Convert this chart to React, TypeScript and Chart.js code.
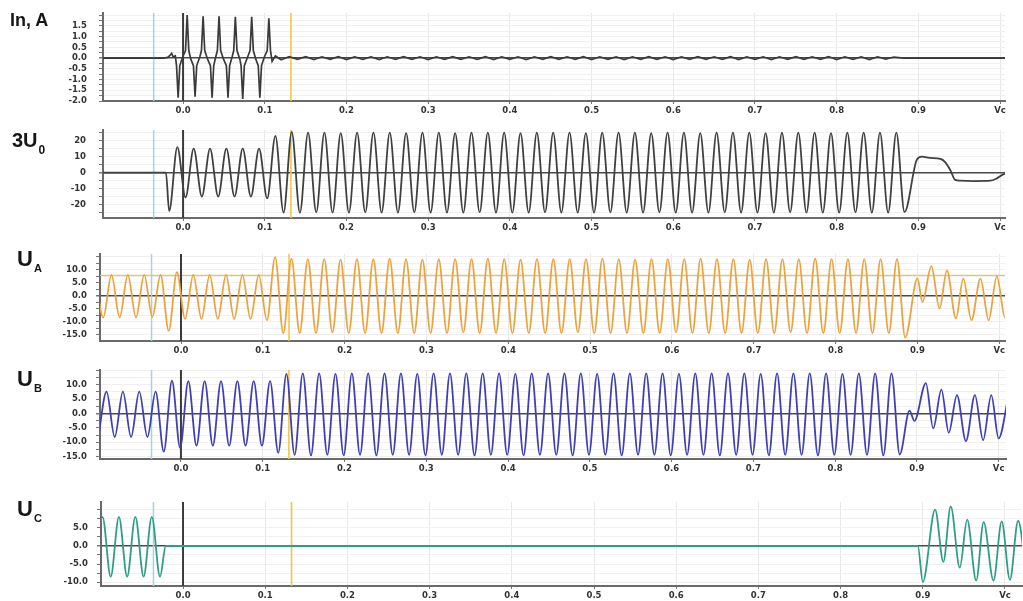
import React, { useEffect, useRef } from "react";
import { Chart, registerables } from "chart.js";
Chart.register(...registerables);

// ---------- shared axis data ----------
const HALF_PERIOD = 0.01;
const X_TICKS = [0, 0.1, 0.2, 0.3, 0.4, 0.5, 0.6, 0.7, 0.8, 0.9, 1.0];
const X_TICK_LABELS = ["0.0", "0.1", "0.2", "0.3", "0.4", "0.5", "0.6", "0.7", "0.8", "0.9", "Vc"];
const CURSOR_BLUE = -0.036;
const CURSOR_YELLOW = 0.132;
const UA_LEVEL = 7.8;

// ---------- In, A ----------
const IN_Y_TICKS = [-2, -1.75, -1.5, -1.25, -1, -0.75, -0.5, -0.25, 0, 0.25, 0.5, 0.75, 1, 1.25, 1.5, 1.75, 2];
const IN_Y_LABELS = ["-2.0", "", "-1.5", "", "-1.0", "", "-0.5", "", "0.0", "", "0.5", "", "1.0", "", "1.5", "", ""];
const IN_T = [-0.1, -0.024, -0.019, -0.016, -0.014, -0.012, -0.0095,
  -0.008, -0.006, -0.004, -0.0005,
  0.003, 0.005, 0.007, 0.0095,
  0.0127, 0.0147, 0.0167, 0.0205,
  0.0225, 0.0245, 0.0265, 0.030,
  0.0335, 0.0355, 0.0375, 0.040,
  0.042, 0.044, 0.046, 0.0495,
  0.053, 0.055, 0.057, 0.060,
  0.062, 0.064, 0.066, 0.0695,
  0.071, 0.073, 0.075, 0.079,
  0.082, 0.084, 0.086, 0.089,
  0.092, 0.094, 0.096, 0.0995,
  0.103, 0.105, 0.107, 0.109, 0.113];
const IN_V = [0, 0, 0.03, 0.12, 0.22, 0.05, 0.1,
  -0.35, -1.85, -0.35, 0.05,
  0.35, 2.0, 0.35, -0.05,
  -0.35, -1.8, -0.35, 0.05,
  0.35, 1.95, 0.35, -0.05,
  -0.35, -1.85, -0.35, 0.05,
  0.35, 1.95, 0.35, -0.05,
  -0.35, -1.85, -0.35, 0.05,
  0.35, 1.92, 0.35, -0.05,
  -0.35, -1.9, -0.35, 0.05,
  0.35, 1.92, 0.35, -0.05,
  -0.35, -1.85, -0.35, 0.05,
  0.35, 1.85, 0.35, -0.15, 0.1];
const IN_RIPPLE_START = 0.12;
const IN_RIPPLE = [
  -0.08, 0.07, -0.06, 0.07, -0.07, 0.06, -0.06, 0.07, -0.07, 0.06,
  -0.06, 0.06, -0.07, 0.06, -0.06, 0.07, -0.06, 0.06, -0.07, 0.06,
  -0.06, 0.07, -0.06, 0.06, -0.06, 0.07, -0.07, 0.06, -0.06, 0.06,
  -0.07, 0.06, -0.06, 0.07, -0.06, 0.06, -0.06, 0.07, -0.07, 0.06,
  -0.06, 0.06, -0.07, 0.06, -0.06, 0.07, -0.06, 0.06, -0.07, 0.06,
  -0.06, 0.07, -0.06, 0.06, -0.06, 0.07, -0.07, 0.06, -0.06, 0.06,
  -0.07, 0.06, -0.06, 0.07, -0.06, 0.06, -0.06, 0.07, -0.07, 0.06,
  -0.06, 0.06, -0.07, 0.06, -0.05, 0.05];
const IN_END_T = [0.882, 1.01];
const IN_END_V = [0, 0];

// ---------- 3U0 ----------
const U0_Y_TICKS = [-25, -20, -15, -10, -5, 0, 5, 10, 15, 20, 25];
const U0_Y_LABELS = ["", "-20", "", "-10", "", "0", "", "10", "", "20", ""];
const U0_LEAD_T = [-0.1, -0.021];
const U0_LEAD_V = [0, 0];
const U0_START = -0.017;
const U0_EXT = [
  -24, 16, -15.5, 15, -15, 15, -15, 15, -15, 15, -15, 15, -16, 23, -25, 25.5,
  -25, 25, -24.8, 25, -25, 24.8, -25, 25, -24.8, 25,
  -25, 25, -25, 24.8, -24.8, 25, -25, 25, -25, 24.8,
  -25, 25, -24.8, 25, -25, 25, -25, 24.8, -25, 25,
  -24.8, 25, -25, 25, -25, 24.8, -25, 25, -24.8, 25,
  -25, 25, -25, 24.8, -24.8, 25, -25, 25, -25, 24.8,
  -25, 25, -24.8, 25, -25, 25, -25, 24.8, -25, 25,
  -24.8, 25, -25, 25, -25, 24.8, -25, 25, -24.8, 25,
  -25, 25, -25, 25, -24.5];
const U0_TAIL_T = [0.898, 0.904, 0.914, 0.927, 0.933, 0.939, 0.945, 0.951, 0.967, 0.988, 0.996, 1.004, 1.012];
const U0_TAIL_V = [8, 10, 9.3, 8.6, 6.5, 1.7, -4.5, -5, -5.2, -5, -3.5, -1, -0.5];

// ---------- UA ----------
const UV_Y_TICKS = [-15, -12.5, -10, -7.5, -5, -2.5, 0, 2.5, 5, 7.5, 10, 12.5, 15];
const UV_Y_LABELS = ["-15.0", "", "-10.0", "", "-5.0", "", "0.0", "", "5.0", "", "10.0", "", ""];
const UA_START = -0.105;
const UA_EXT = [
  8, -8.5, 8, -8.5, 8, -8.5, 8, -8.2, 8, -13.6,
  9, -9, 8, -9, 8, -9, 8, -9, 8, -9, 8, -9.5,
  14.8, -14.6, 14.2, -14.5, 14, -14.5, 14, -14.2, 13.8, -14.5,
  14, -14.5, 14, -14.5, 14.2, -14.5, 14, -14.5, 13.8, -14.5,
  14, -14.5, 14, -14.2, 14, -14.5, 14.2, -14.5, 14, -14.5,
  13.8, -14.5, 14, -14.5, 14, -14.5, 14, -14.2, 14, -14.5,
  14.2, -14.5, 14, -14.5, 13.8, -14.5, 14, -14.5, 14, -14.2,
  14, -14.5, 14.2, -14.5, 14, -14.5, 14, -14.5, 13.8, -14.5,
  14, -14.5, 14, -14.2, 14, -14.5, 14.2, -14.5, 14, -14.5,
  14, -14.5, 14, -14.5, 14, -14.5, 14, -16.2];
const UA_TAIL_T = [0.9, 0.906, 0.917, 0.927, 0.936, 0.947, 0.956, 0.966, 0.977, 0.987, 0.997, 1.007, 1.017];
const UA_TAIL_V = [6.6, -2.5, 11.3, -5, 9.7, -8.8, 6.5, -9.5, 6.5, -9.5, 7.4, -8.5, 7];

// ---------- UB ----------
const UB_START = -0.101;
const UB_EXT = [
  -8, 7.6, -8.2, 7.6, -8.2, 7.6, -8.2, 7.6, -13.3, 11.4,
  -12, 11.3, -11.2, 11.3, -11.2, 11.3, -11.2, 11.3, -11.2, 11.3, -11.2, 11.3,
  -13.7, 13.8,
  -14.4, 14, -14.6, 14, -14.4, 13.8, -14.6, 14, -14.4, 14,
  -14.6, 14, -14.4, 14, -14.4, 13.8, -14.6, 14, -14.4, 14,
  -14.4, 14, -14.6, 14, -14.4, 14, -14.4, 13.8, -14.6, 14,
  -14.4, 14, -14.4, 14, -14.6, 14, -14.4, 13.8, -14.4, 14,
  -14.6, 14, -14.4, 14, -14.4, 14, -14.6, 13.8, -14.4, 14,
  -14.4, 14, -14.6, 14, -14.4, 14, -14.4, 13.8, -14.6, 14,
  -14.4, 14, -14.4, 14, -14.6, 14, -14.4, 13.8, -14.4, 14,
  -14.4, 14, -14.6, 14, -14.3];
const UB_TAIL_T = [0.891, 0.897, 0.911, 0.92, 0.93, 0.939, 0.949, 0.96, 0.971, 0.981, 0.991, 1.0, 1.012];
const UB_TAIL_V = [1, -2.6, 10.6, -5.2, 8.3, -6.7, 6.4, -9.6, 6.4, -9.3, 6.4, -8.7, 6];

// ---------- UC ----------
const UC_Y_TICKS = [-10, -7.5, -5, -2.5, 0, 2.5, 5, 7.5, 10];
const UC_Y_LABELS = ["-10.0", "", "-5.0", "", "0.0", "", "5.0", "", ""];
const UC_T = [-0.108, -0.098, -0.088, -0.078, -0.068, -0.058, -0.048, -0.038, -0.028, -0.021,
  0.894, 0.9, 0.915, 0.925, 0.934, 0.945, 0.954, 0.965, 0.974, 0.986, 0.996, 1.006, 1.016, 1.026];
const UC_V = [-8, 8.1, -8.5, 8.1, -8.5, 8.1, -8.5, 8.1, -8.5, 0,
  0, -10, 10.1, -4.4, 11, -6, 7.3, -9.6, 6.6, -9.6, 6.8, -9.4, 7, -8];

// ---------- helpers ----------
type Pt = { x: number; y: number };
const pts = (ts: number[], vs: number[]): Pt[] => ts.map((t, i) => ({ x: t, y: vs[i] }));
const seq = (start: number, vs: number[]): Pt[] => vs.map((v, i) => ({ x: start + i * HALF_PERIOD, y: v }));

const PAD_T = 6;
const X_AX_H = 22;
const TICK_FONT = { family: "'DejaVu Sans', sans-serif", size: 8.5, weight: "bold" as const };

type PanelCfg = {
  left: number; right: number; top: number; bottom: number;
  xMin: number; xMax: number; yMin: number; yMax: number;
  yTicks: number[]; yLabels: string[]; labelPad: number;
  color: string; smooth: boolean; width: number; data: Pt[]; hLevel?: number;
};

const PANELS: PanelCfg[] = [
  {
    left: 103, right: 1005, top: 13, bottom: 101, xMin: -0.098, xMax: 1.006, yMin: -2.0, yMax: 2.1,
    yTicks: IN_Y_TICKS, yLabels: IN_Y_LABELS, labelPad: 12, color: "#3a3a3a", smooth: false, width: 1.7,
    data: [...pts(IN_T, IN_V), ...seq(IN_RIPPLE_START, IN_RIPPLE), ...pts(IN_END_T, IN_END_V)],
  },
  {
    left: 103, right: 1005, top: 130, bottom: 218, xMin: -0.098, xMax: 1.006, yMin: -28.3, yMax: 26.7,
    yTicks: U0_Y_TICKS, yLabels: U0_Y_LABELS, labelPad: 13, color: "#404040", smooth: true, width: 1.8,
    data: [...pts(U0_LEAD_T, U0_LEAD_V), ...seq(U0_START, U0_EXT), ...pts(U0_TAIL_T, U0_TAIL_V)],
  },
  {
    left: 100, right: 1005, top: 254, bottom: 341, xMin: -0.099, xMax: 1.007, yMin: -17.5, yMax: 16,
    yTicks: UV_Y_TICKS, yLabels: UV_Y_LABELS, labelPad: 9, color: "#eda33d", smooth: true, width: 1.8,
    data: [...seq(UA_START, UA_EXT), ...pts(UA_TAIL_T, UA_TAIL_V)], hLevel: UA_LEVEL,
  },
  {
    left: 100, right: 1006, top: 370, bottom: 459, xMin: -0.099, xMax: 1.009, yMin: -15.85, yMax: 15.15,
    yTicks: UV_Y_TICKS, yLabels: UV_Y_LABELS, labelPad: 9, color: "#4040b4", smooth: true, width: 1.8,
    data: [...seq(UB_START, UB_EXT), ...pts(UB_TAIL_T, UB_TAIL_V)],
  },
  {
    left: 101, right: 1022, top: 502, bottom: 586, xMin: -0.0998, xMax: 1.0207, yMin: -11.1, yMax: 12.2,
    yTicks: UC_Y_TICKS, yLabels: UC_Y_LABELS, labelPad: 9, color: "#2f9e87", smooth: true, width: 1.8,
    data: pts(UC_T, UC_V),
  },
];

const cursorPlugin = (hLevel?: number) => ({
  id: "cursors",
  beforeDatasetsDraw(chart: any) {
    const { ctx, chartArea: a, scales } = chart;
    const xs = scales.x, ys = scales.y;
    ctx.save();
    const vline = (v: number, color: string, w: number) => {
      const px = xs.getPixelForValue(v);
      ctx.strokeStyle = color;
      ctx.lineWidth = w;
      ctx.beginPath();
      ctx.moveTo(px, a.top);
      ctx.lineTo(px, a.bottom);
      ctx.stroke();
    };
    if (hLevel !== undefined) {
      const py = ys.getPixelForValue(hLevel);
      ctx.strokeStyle = "#f2c54a";
      ctx.lineWidth = 1.2;
      ctx.beginPath();
      ctx.moveTo(a.left, py);
      ctx.lineTo(a.right, py);
      ctx.stroke();
    }
    vline(CURSOR_BLUE, "#9fd3e5", 1.5);
    vline(CURSOR_YELLOW, "#f2c54a", 1.6);
    vline(0, "#3a3a3a", 2);
    ctx.restore();
  },
});

function PanelChart({ p }: { p: PanelCfg }) {
  const ref = useRef<HTMLCanvasElement | null>(null);
  useEffect(() => {
    const chart = new Chart(ref.current as HTMLCanvasElement, {
      type: "line",
      data: {
        datasets: [
          {
            data: p.data as any,
            borderColor: p.color,
            borderWidth: p.width,
            pointRadius: 0,
            fill: false,
            tension: p.smooth ? 0.4 : 0,
            cubicInterpolationMode: p.smooth ? "monotone" : "default",
          },
        ],
      },
      options: {
        animation: false,
        responsive: true,
        maintainAspectRatio: false,
        events: [],
        layout: { padding: { top: PAD_T, left: 0, right: 1023 - p.right, bottom: 0 } },
        plugins: { legend: { display: false }, tooltip: { enabled: false } },
        scales: {
          x: {
            type: "linear",
            bounds: "data",
            min: p.xMin,
            max: p.xMax,
            afterBuildTicks: (s: any) => { s.ticks = X_TICKS.map((v) => ({ value: v })); },
            afterFit: (s: any) => { s.height = X_AX_H; s.paddingLeft = 0; s.paddingRight = 0; },
            ticks: {
              autoSkip: false, maxRotation: 0, padding: 2, color: "#333", font: TICK_FONT,
              callback: (_v: any, i: number) => X_TICK_LABELS[i],
            },
            grid: { color: "#e8e8e8", lineWidth: 1, tickLength: 3, tickColor: "#777" },
            border: { display: true, color: "#6a6a6a", width: 2 },
          },
          y: {
            type: "linear",
            bounds: "data",
            min: p.yMin,
            max: p.yMax,
            afterBuildTicks: (s: any) => { s.ticks = p.yTicks.map((v) => ({ value: v })); },
            afterFit: (s: any) => { s.width = p.left; s.paddingTop = 0; s.paddingBottom = 0; },
            ticks: {
              autoSkip: false, padding: p.labelPad, color: "#333", font: TICK_FONT,
              callback: (_v: any, i: number) => p.yLabels[i] ?? "",
            },
            grid: {
              color: (c: any) => (c.tick && c.tick.value === 0 ? "#4a4a4a" : "#f0f0f0"),
              lineWidth: (c: any) => (c.tick && c.tick.value === 0 ? 1.5 : 1),
              tickLength: 4,
              tickColor: "#777",
            },
            border: { display: true, color: "#6a6a6a", width: 2 },
          },
        },
      } as any,
      plugins: [cursorPlugin(p.hLevel)],
    });
    return () => chart.destroy();
  }, []);
  return (
    <div
      style={{
        position: "absolute",
        left: 0,
        top: p.top - PAD_T,
        width: 1023,
        height: p.bottom - p.top + PAD_T + X_AX_H,
      }}
    >
      <canvas ref={ref} />
    </div>
  );
}

const TITLE_FONT = "'Liberation Sans', Arial, sans-serif";

export default function App() {
  const title = (left: number, top: number, size: number): React.CSSProperties => ({
    position: "absolute", left, top, fontFamily: TITLE_FONT, fontWeight: "bold",
    fontSize: size, lineHeight: 1, color: "#161616", whiteSpace: "nowrap",
  });
  const sub = (size: number, shift: number): React.CSSProperties => ({
    fontSize: size, position: "relative", top: shift, marginLeft: 1,
  });
  return (
    <div style={{ position: "fixed", left: 0, top: 0, width: 1023, height: 601, overflow: "hidden", background: "#fff" }}>
      {PANELS.map((p, i) => (
        <PanelChart key={i} p={p} />
      ))}
      <div style={title(10, 11, 18)}>In, A</div>
      <div style={title(12, 130, 20)}>3U<span style={sub(12, 7)}>0</span></div>
      <div style={title(17, 248, 22)}>U<span style={sub(11, 6)}>A</span></div>
      <div style={title(17, 368, 22)}>U<span style={sub(11, 6)}>B</span></div>
      <div style={title(17, 498, 22)}>U<span style={sub(11, 6)}>C</span></div>
    </div>
  );
}
